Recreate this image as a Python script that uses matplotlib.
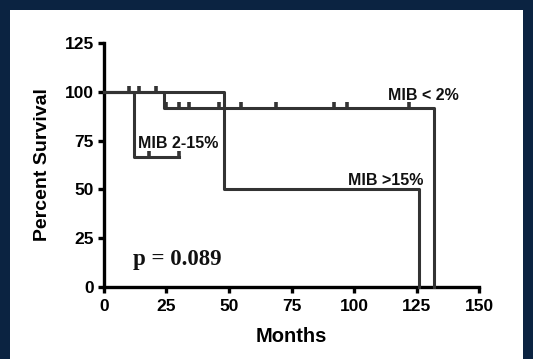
import matplotlib
matplotlib.use("Agg")
import matplotlib.pyplot as plt
from matplotlib.patches import Rectangle

# Kaplan-Meier steps (months, percent survival)
low_t = [0, 24, 132]
low_s = [100, 91.7, 0]
mid_t = [0, 12, 30]
mid_s = [100, 66.7, 66.7]
high_t = [0, 48, 126]
high_s = [100, 50, 0]

# censored observations
low_cens_t = [10, 14, 21, 25, 30, 34, 46, 55, 69, 92, 97, 122]
low_cens_s = [100, 100, 100, 91.7, 91.7, 91.7, 91.7, 91.7, 91.7, 91.7, 91.7, 91.7]
mid_cens_t = [18, 30]
mid_cens_s = [66.7, 66.7]

xticks = [0, 25, 50, 75, 100, 125, 150]
yticks = [0, 25, 50, 75, 100, 125]

W, H = 533, 359
fig = plt.figure(figsize=(W / 100, H / 100), dpi=100, facecolor="#0b2341")
fig.patches.append(Rectangle((10 / W, 0), 513 / W, 349 / H, transform=fig.transFigure,
                             facecolor="white", edgecolor="none", zorder=-10))

ax = fig.add_axes([103.7 / W, 1 - 286.7 / H, 375.6 / W, 243.4 / H])
ax.set_facecolor("none")
ax.set_zorder(5)

line_col = "#333333"
for t, s in [(low_t, low_s), (mid_t, mid_s), (high_t, high_s)]:
    ax.plot(t, s, drawstyle="steps-post", color=line_col, lw=2.2, clip_on=False, zorder=3)

ax.plot(low_cens_t, low_cens_s, ls="none", marker=2, ms=4, mew=2.6, color=line_col,
        clip_on=False, zorder=3)
ax.plot(mid_cens_t, mid_cens_s, ls="none", marker=2, ms=4, mew=2.6, color=line_col,
        clip_on=False, zorder=3)

ax.set_xlim(0, 150)
ax.set_ylim(0, 125)
ax.set_xticks(xticks)
ax.set_yticks(yticks)
for sp in ["top", "right"]:
    ax.spines[sp].set_visible(False)
for sp in ["left", "bottom"]:
    ax.spines[sp].set_linewidth(2.4)
ax.tick_params(width=2.4, length=4, direction="out", labelsize=12.5)
ax.tick_params(axis="x", pad=5)
ax.tick_params(axis="y", pad=3)
for lab in ax.get_xticklabels() + ax.get_yticklabels():
    lab.set_fontweight("bold")
    lab.set_family("Liberation Sans")

ax.set_xlabel("Months", fontsize=14.5, fontweight="bold", family="Liberation Sans", labelpad=9)
ax.set_ylabel("Percent Survival", fontsize=14, fontweight="bold", family="Liberation Sans", labelpad=10)

ann = dict(fontsize=11.5, fontweight="bold", family="Liberation Sans", va="center", color="#111111")
ax.text(113.5, 98, "MIB < 2%", **ann)
ax.text(13.8, 73.7, "MIB 2-15%", **ann)
ax.text(97.7, 54.3, "MIB >15%", **ann)
ax.text(11.8, 14, "p = 0.089", fontsize=16.5, fontweight="bold", family="Liberation Serif",
        va="center", color="#111111")

fig.savefig("out.png", dpi=100, facecolor=fig.get_facecolor())
